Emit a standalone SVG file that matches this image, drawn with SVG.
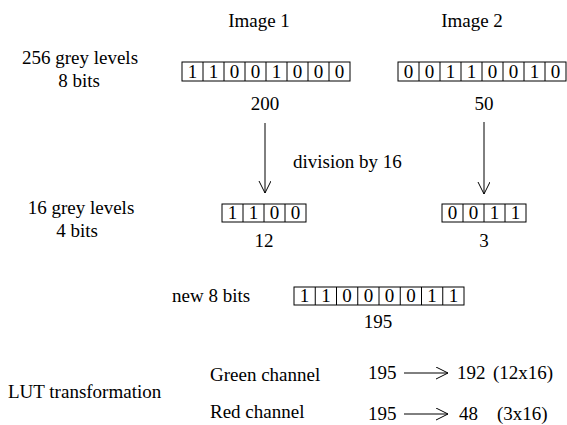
<svg xmlns="http://www.w3.org/2000/svg" width="567" height="425" viewBox="0 0 567 425">
<style>
text{font-family:"Liberation Serif",Tinos,"Times New Roman",Times,"Nimbus Roman","Nimbus Roman No9 L",FreeSerif,"DejaVu Serif","Noto Serif",serif;font-size:19px;fill:#000}
.c{text-anchor:middle}
.box{fill:#fff;stroke:#000;stroke-width:1}
.ln{stroke:#000;stroke-width:1;fill:none}
</style>
<defs>
<marker id="ah" markerWidth="14" markerHeight="14" refX="12" refY="6" orient="auto" markerUnits="userSpaceOnUse">
<path d="M0,0 L12,6 L0,12" fill="none" stroke="#000" stroke-width="1"/>
</marker>
</defs>
<rect width="567" height="425" fill="#fff"/>
<g id="labels">
<text class="c" x="259" y="27">Image 1</text>
<text class="c" x="472" y="27">Image 2</text>
<text class="c" x="80" y="64">256 grey levels</text>
<text class="c" x="79" y="87">8 bits</text>
<text class="c" x="81" y="214">16 grey levels</text>
<text class="c" x="77" y="237">4 bits</text>
<text x="293" y="168">division by 16</text>
<text x="172" y="302">new 8 bits</text>
<text x="8" y="398">LUT transformation</text>
<text x="210" y="381">Green channel</text>
<text x="210" y="418">Red channel</text>
</g>
<g id="img1-8bit">
<rect class="box" x="182" y="62" width="168" height="19"/>
<path class="ln" d="M203,62V81M224,62V81M245,62V81M266,62V81M287,62V81M308,62V81M329,62V81"/>
<text class="c" y="78"><tspan x="192.5">1</tspan><tspan x="213.5">1</tspan><tspan x="234.5">0</tspan><tspan x="255.5">0</tspan><tspan x="276.5">1</tspan><tspan x="297.5">0</tspan><tspan x="318.5">0</tspan><tspan x="339.5">0</tspan></text>
<text class="c" x="265" y="110">200</text>
</g>
<g id="img2-8bit">
<rect class="box" x="398" y="62" width="168" height="19"/>
<path class="ln" d="M419,62V81M440,62V81M461,62V81M482,62V81M503,62V81M524,62V81M545,62V81"/>
<text class="c" y="78"><tspan x="408.5">0</tspan><tspan x="429.5">0</tspan><tspan x="450.5">1</tspan><tspan x="471.5">1</tspan><tspan x="492.5">0</tspan><tspan x="513.5">0</tspan><tspan x="534.5">1</tspan><tspan x="555.5">0</tspan></text>
<text class="c" x="484" y="110">50</text>
</g>
<g id="img1-4bit">
<rect class="box" x="222" y="204" width="84" height="18"/>
<path class="ln" d="M243,204V222M264,204V222M285,204V222"/>
<text class="c" y="219"><tspan x="232.5">1</tspan><tspan x="253.5">1</tspan><tspan x="274.5">0</tspan><tspan x="295.5">0</tspan></text>
<text class="c" x="264" y="247">12</text>
</g>
<g id="img2-4bit">
<rect class="box" x="442" y="204" width="84" height="18"/>
<path class="ln" d="M463,204V222M484,204V222M505,204V222"/>
<text class="c" y="219"><tspan x="452.5">0</tspan><tspan x="473.5">0</tspan><tspan x="494.5">1</tspan><tspan x="515.5">1</tspan></text>
<text class="c" x="484" y="247">3</text>
</g>
<g id="new-8bit">
<rect class="box" x="294" y="287" width="170" height="18"/>
<path class="ln" d="M315.25,287V305M336.5,287V305M357.75,287V305M379,287V305M400.25,287V305M421.5,287V305M442.75,287V305"/>
<text class="c" y="302"><tspan x="304.6">1</tspan><tspan x="325.9">1</tspan><tspan x="347.1">0</tspan><tspan x="368.4">0</tspan><tspan x="389.6">0</tspan><tspan x="410.9">0</tspan><tspan x="432.1">1</tspan><tspan x="453.4">1</tspan></text>
<text class="c" x="378" y="328">195</text>
</g>
<g id="lut-green">
<text x="368" y="379">195</text>
<text x="457" y="379">192</text>
<text x="493" y="379">(12x16)</text>
</g>
<g id="lut-red">
<text x="368" y="420">195</text>
<text x="459" y="420">48</text>
<text x="497" y="420">(3x16)</text>
</g>
<g id="connectors">
<line class="ln" x1="265" y1="123" x2="265" y2="193" marker-end="url(#ah)"/>
<line class="ln" x1="484" y1="122" x2="484" y2="194" marker-end="url(#ah)"/>
<line class="ln" x1="404" y1="373" x2="448" y2="373" marker-end="url(#ah)"/>
<line class="ln" x1="404" y1="414" x2="448" y2="414" marker-end="url(#ah)"/>
</g>
</svg>
